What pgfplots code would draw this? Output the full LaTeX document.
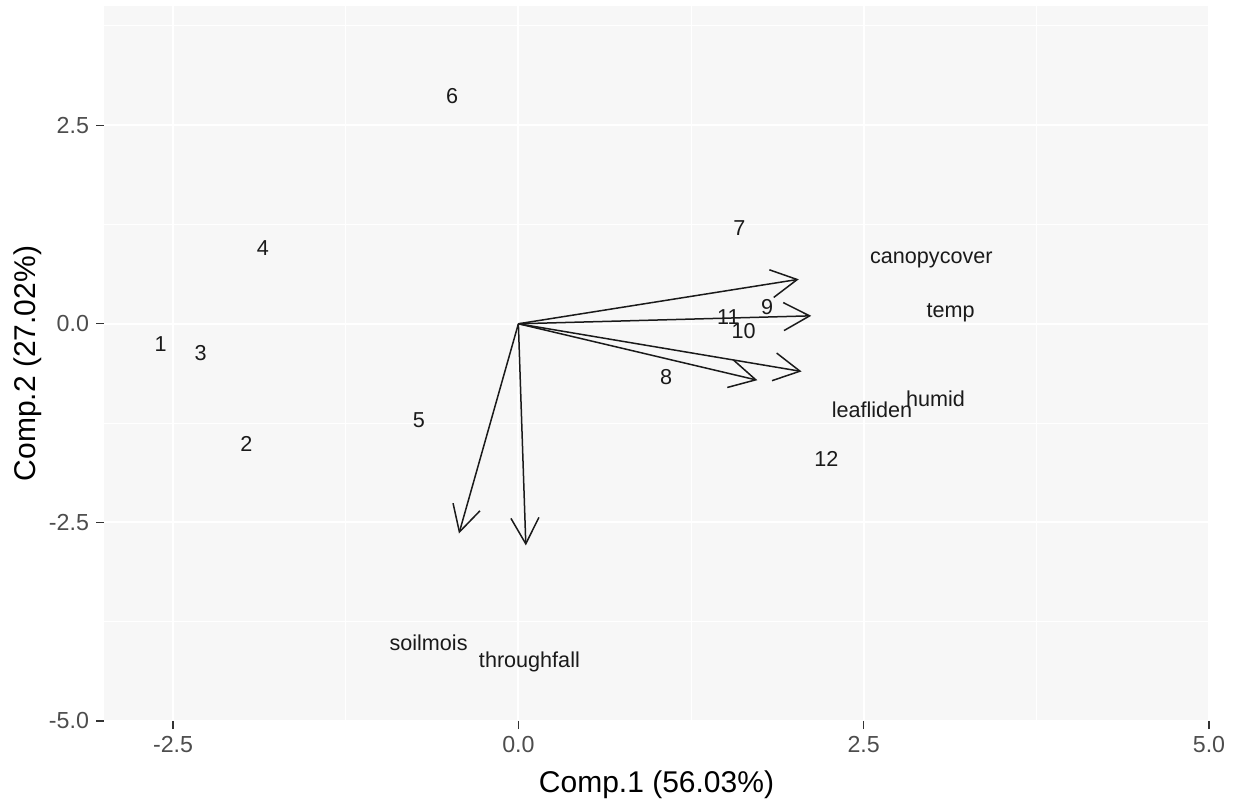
\documentclass[border=0pt]{standalone}
\usepackage{pgfplots}
\pgfplotsset{compat=1.18}
\usepackage{pgfplotstable}
\usepackage{fontspec}
\setmainfont{Liberation Sans}
\usetikzlibrary{arrows.meta}
\definecolor{panelbg}{HTML}{F7F7F7}
\definecolor{ticktext}{HTML}{4D4D4D}
\definecolor{tickcol}{HTML}{333333}
\definecolor{ink}{HTML}{1A1A1A}

\pgfplotstableread{
x y label
-2.59 -0.25 1
-1.97 -1.51 2
-2.30 -0.37 3
-1.85 0.95 4
-0.72 -1.21 5
-0.48 2.86 6
1.60 1.20 7
1.07 -0.67 8
1.80 0.21 9
1.63 -0.09 10
1.52 0.08 11
2.23 -1.70 12
}\obs

\pgfplotstableread{
x y label
2.99 0.80 canopycover
3.13 0.14 temp
3.02 -0.94 humid
2.56 -1.08 leafliden
-0.65 -4.02 soilmois
0.08 -4.26 throughfall
}\vars

\begin{document}
\begin{tikzpicture}
\begin{axis}[
  scale only axis, width=552.5pt, height=357.5pt,
  xmin=-3, xmax=5, ymin=-5, ymax=4,
  axis background/.style={fill=panelbg},
  axis line style={draw=none},
  xtick={-2.5,0,2.5,5}, xticklabels={-2.5,0.0,2.5,5.0},
  ytick={-5,-2.5,0,2.5}, yticklabels={-5.0,-2.5,0.0,2.5},
  minor xtick={-1.25,1.25,3.75}, minor ytick={-3.75,-1.25,1.25,3.75},
  grid=both,
  major grid style={white, line width=1pt},
  minor grid style={white, line width=0.5pt},
  tick pos=left, tick align=outside, major tick length=4pt, minor tick length=0pt,
  tick style={tickcol, line width=0.6pt},
  ticklabel style={font=\fontsize{11.6}{14}\selectfont, text=ticktext},
  xlabel={Comp.1 (56.03\%)}, ylabel={Comp.2 (27.02\%)},
  every axis x label/.style={at={(axis description cs:0.5,-0.0685)}, anchor=north, inner sep=0pt, font=\fontsize{15}{18}\selectfont},
  every axis y label/.style={at={(axis description cs:-0.0688,0.5)}, anchor=center, rotate=90, inner sep=0pt, font=\fontsize{15}{18}\selectfont},
  clip=false,
]
\addplot[ink, line width=0.75pt, -{Straight Barb[length=13pt, width=14pt]}] coordinates {(0,0) (2.03,0.56)};
\addplot[ink, line width=0.75pt, -{Straight Barb[length=13pt, width=14pt]}] coordinates {(0,0) (2.12,0.10)};
\addplot[ink, line width=0.75pt, -{Straight Barb[length=13pt, width=14pt]}] coordinates {(0,0) (2.05,-0.60)};
\addplot[ink, line width=0.75pt, -{Straight Barb[length=13pt, width=14pt]}] coordinates {(0,0) (1.73,-0.71)};
\addplot[ink, line width=0.75pt, -{Straight Barb[length=13pt, width=14pt]}] coordinates {(0,0) (-0.43,-2.64)};
\addplot[ink, line width=0.75pt, -{Straight Barb[length=13pt, width=14pt]}] coordinates {(0,0) (0.054,-2.79)};
\addplot[draw=none, mark=none, nodes near coords, point meta=explicit symbolic,
  nodes near coords align=center,
  every node near coord/.append style={font=\fontsize{10.8}{13}\selectfont, text=ink, inner sep=0pt, anchor=center}]
  table[meta=label] {\obs};
\addplot[draw=none, mark=none, nodes near coords, point meta=explicit symbolic,
  nodes near coords align=center,
  every node near coord/.append style={font=\fontsize{10.8}{13}\selectfont, text=ink, inner sep=0pt, anchor=center}]
  table[meta=label] {\vars};
\end{axis}
\pgfresetboundingbox
\path[use as bounding box] ([shift={(-52pt,-40pt)}]current axis.south west) rectangle ([shift={(13pt,3pt)}]current axis.north east);
\end{tikzpicture}
\end{document}
